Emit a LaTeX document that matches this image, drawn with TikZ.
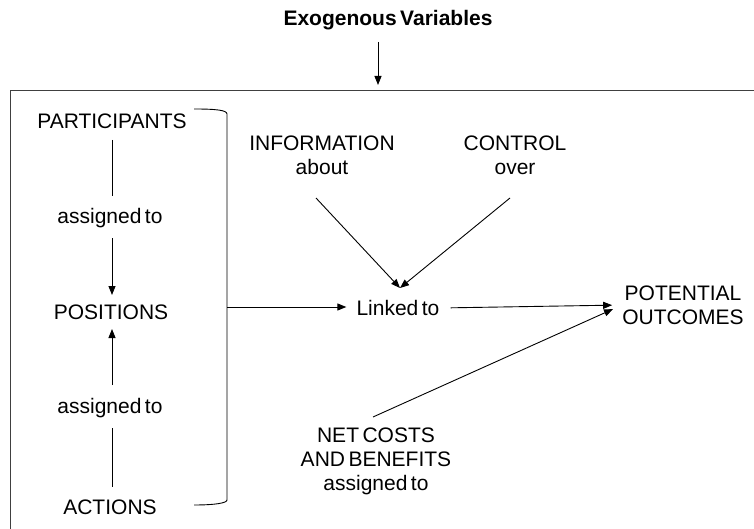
\documentclass[tikz,border=0pt]{standalone}
\usepackage{fontspec}
\setmainfont{Liberation Sans}[WordSpace=0.6]
\usetikzlibrary{arrows.meta}
\begin{document}
\begin{tikzpicture}[x=1pt,y=-1pt,
  lbl/.style={inner sep=0pt, align=center, font=\fontsize{21}{24}\selectfont},
  conn/.style={line width=0.9pt},
  arr/.style={conn, -{Triangle[length=9pt,width=7pt]}}]
\useasboundingbox (0,0) rectangle (754,529);
% frame of the action situation, open to the right and bottom
\begin{scope}
\clip (0,0) rectangle (754,529);
\draw[line width=1pt, draw=black!75] (10,600) -- (10,91) -- (800,91);
\end{scope}

\node[lbl, font=\bfseries\fontsize{21}{24}\selectfont] (exo) at (388,20) {Exogenous Variables};
\coordinate (frametop) at (378,85);
\draw[arr] (378,42) -- (frametop);

% left column
\node[lbl] (part) at (112,121) {PARTICIPANTS};
\node[lbl] (as1) at (110,218) {assigned to};
\node[lbl] (pos) at (111,312) {POSITIONS};
\node[lbl] (as2) at (110,408) {assigned to};
\node[lbl] (act) at (110,507) {ACTIONS};

\draw[conn] (112,140) coordinate (p1) -- (112,196) coordinate (p2);
\draw[arr] (112,238) coordinate (p3) -- (112,295) coordinate (p4);
\draw[arr] (112,385) coordinate (p5) -- (112,329) coordinate (p6);
\draw[conn] (112,428) coordinate (p7) -- (112,487) coordinate (p8);

% bracket
\draw[conn] (194,109) .. controls (215,109) and (227,110) .. (227,114)
  -- (227,500) .. controls (227,503) and (215,505) .. (194,505);
\coordinate (brk) at (227,307);

% centre
\node[lbl] (info) at (322,155) {INFORMATION\\about};
\node[lbl] (ctrl) at (515,155) {CONTROL\\over};
\node[lbl] (link) at (398,308) {Linked to};
\node[lbl] (pot) at (683,305) {POTENTIAL\\OUTCOMES};
\node[lbl] (net) at (376,461) {NET COSTS\\AND BENEFITS\\assigned to};

\coordinate (meet) at (400,288);
\draw[arr] (316,198) -- (meet);
\draw[arr] (510,198) -- (meet);
\draw[arr, shorten >=10pt] (brk) -- (brk -| link.west);
\draw[arr, shorten <=11pt, shorten >=10pt] (link.east) -- (pot.west);
\draw[arr, shorten >=10pt] (373,417) -- (pot.west);
\end{tikzpicture}
\end{document}
